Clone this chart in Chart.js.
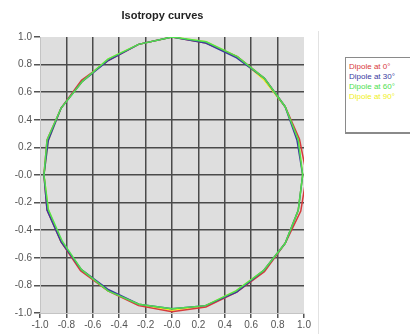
<!DOCTYPE html>
<html>
<head>
<meta charset="utf-8">
<script src="https://cdn.jsdelivr.net/npm/chart.js@4"></script>
<style>
    html, body { margin: 0; padding: 0; background: #fff; }
    #wrap { position: relative; width: 410px; height: 336px; overflow: hidden; }
    #plot { position: absolute; left: 0; top: 0; }
    #title {
        position: absolute; left: 0; top: 9px; width: 325px;
        text-align: center; font: bold 11px "Liberation Sans", Arial, sans-serif; color: #222;
    }
    #sep { position: absolute; left: 318px; top: 31px; width: 1px; height: 303px; background: #e2e2e2; }
    #legend {
        position: absolute; left: 345px; top: 57px; width: 80px; height: 77px;
        border: 1px solid #8a8a8a; border-bottom-width: 2px; background: #fff;
        padding: 4px 0 0 3px; box-sizing: border-box;
        font: 8px "Liberation Sans", Arial, sans-serif; line-height: 10px; white-space: nowrap;
    }
</style>
</head>
<body>
<div id="wrap">
    <canvas id="plot" width="410" height="336"></canvas>
    <div id="title">Isotropy curves</div>
    <div id="sep"></div>
    <div id="legend"></div>
</div>
<script>
// Sample angles (degrees) and measured radius of each dipole curve
const angles = [0, 15, 30, 45, 60, 75, 90, 105, 120, 135, 150, 165,
                180, 195, 210, 225, 240, 255, 270, 285, 300, 315, 330, 345];
const dipole0  = [1.02, 1.00, 0.99, 0.99, 0.99, 0.99, 1.00, 0.98, 0.96, 0.97, 0.97, 0.98,
                  0.97, 0.98, 0.97, 0.98, 0.97, 0.98, 0.99, 0.99, 0.98, 0.99, 0.99, 1.01];
const dipole30 = [0.99, 0.98, 0.99, 0.99, 0.98, 0.99, 1.00, 0.98, 0.96, 0.96, 0.97, 0.97,
                  0.97, 0.98, 0.97, 0.97, 0.96, 0.97, 0.97, 0.98, 0.98, 0.98, 0.99, 0.99];
const dipole60 = [0.99, 0.99, 0.99, 0.99, 0.99, 1.00, 1.00, 0.98, 0.97, 0.96, 0.97, 0.98,
                  0.97, 0.97, 0.96, 0.97, 0.97, 0.97, 0.97, 0.98, 0.97, 0.98, 0.99, 0.99];
const dipole90 = [0.99, 0.99, 0.99, 0.98, 0.99, 1.00, 1.00, 0.98, 0.97, 0.96, 0.97, 0.97,
                  0.97, 0.97, 0.97, 0.97, 0.97, 0.97, 0.98, 0.98, 0.97, 0.98, 0.99, 0.99];
const axisTicks = [-1, -0.8, -0.6, -0.4, -0.2, 0, 0.2, 0.4, 0.6, 0.8, 1];

const seriesNames = ['Dipole at 0°', 'Dipole at 30°', 'Dipole at 60°', 'Dipole at 90°'];
const seriesColors = ['#d83a3a', '#3a3aa0', '#4ee04e', '#f0f020'];
const seriesRadii = [dipole0, dipole30, dipole60, dipole90];
// green drawn on top, yellow underneath
const seriesOrder = [2, 1, 0, 3];

// Turn polar samples into a closed x/y path
function toPath(radii) {
    const pts = angles.map((a, i) => {
        const t = a * Math.PI / 180;
        return { x: radii[i] * Math.cos(t), y: radii[i] * Math.sin(t) };
    });
    pts.push(pts[0]);
    return pts;
}

function tickLabel(v) {
    if (Math.abs(v) < 1e-9) return '-0.0';
    return v.toFixed(1);
}

// Paint the grey plotting area
const plotBackground = {
    id: 'plotBackground',
    beforeDraw(chart) {
        const a = chart.chartArea;
        const ctx = chart.ctx;
        ctx.save();
        ctx.fillStyle = '#dedede';
        ctx.fillRect(a.left, a.top, a.right - a.left, a.bottom - a.top);
        ctx.restore();
    }
};

function gridColor(c) {
    return Math.abs(c.tick.value) > 0.999 ? 'rgba(0,0,0,0)' : '#4a4a4a';
}

const tickFont = { family: '"Liberation Sans", Arial, sans-serif', size: 10 };

const ctx = document.getElementById('plot').getContext('2d');
const chart = new Chart(ctx, {
    type: 'scatter',
    data: {
        datasets: seriesNames.map((name, i) => ({
            label: name,
            data: toPath(seriesRadii[i]),
            showLine: true,
            borderColor: seriesColors[i],
            backgroundColor: seriesColors[i],
            borderWidth: 1.5,
            pointRadius: 0,
            tension: 0,
            order: seriesOrder[i]
        }))
    },
    options: {
        responsive: false,
        animation: false,
        layout: { padding: { top: 37, right: 106, left: 0, bottom: 0 } },
        plugins: { legend: { display: false }, tooltip: { enabled: false } },
        scales: {
            x: {
                type: 'linear', min: -1, max: 1,
                afterBuildTicks: s => { s.ticks = axisTicks.map(v => ({ value: v })); },
                afterFit: s => { s.height = 23; },
                ticks: { callback: tickLabel, color: '#555', font: tickFont, padding: 1, maxRotation: 0, autoSkip: false },
                grid: { color: gridColor, lineWidth: 1.5, tickColor: '#555', tickLength: 5 },
                border: { color: '#c4c4c4', width: 1 }
            },
            y: {
                type: 'linear', min: -1, max: 1,
                afterBuildTicks: s => { s.ticks = axisTicks.map(v => ({ value: v })); },
                afterFit: s => { s.width = 40; },
                ticks: { callback: tickLabel, color: '#555', font: tickFont, padding: 2, autoSkip: false },
                grid: { color: gridColor, lineWidth: 1.5, tickColor: '#555', tickLength: 6 },
                border: { color: '#c4c4c4', width: 1 }
            }
        }
    },
    plugins: [plotBackground]
});

// Coloured-text legend on the right
const legend = document.getElementById('legend');
seriesNames.forEach((name, i) => {
    const row = document.createElement('div');
    row.textContent = name;
    row.style.color = seriesColors[i];
    legend.appendChild(row);
});
</script>
</body>
</html>
